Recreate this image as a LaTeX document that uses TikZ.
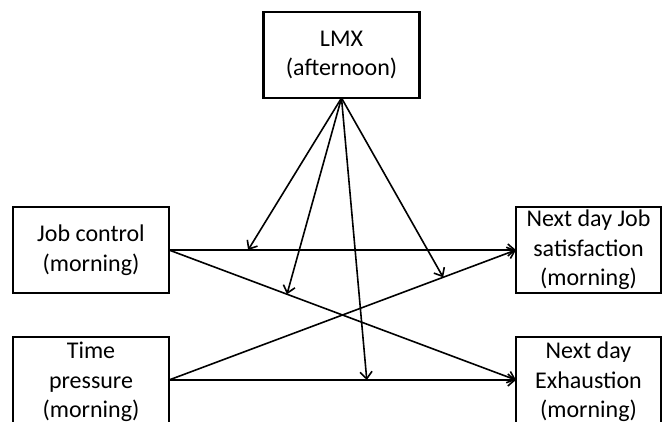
\documentclass[tikz,border=0pt]{standalone}
\usepackage{fontspec}
\setmainfont{Carlito}
\usetikzlibrary{arrows.meta}
\begin{document}
\begin{tikzpicture}[x=1pt,y=-1pt,
  box/.style={draw,line width=2.2pt,minimum height=86pt,inner sep=0pt,outer sep=0pt},
  lbl/.style={align=center,inner sep=0pt,font=\fontsize{24}{29.5}\selectfont},
  ln/.style={line width=1.6pt},
  arr/.style={line width=1.6pt,-{Straight Barb[length=7pt,width=12pt]}}]
\useasboundingbox (0,0) rectangle (662,421);
\node[box,minimum width=156pt] (lmx) at (341.5,55) {};
\node[box,minimum width=156pt] (jc) at (91,250) {};
\node[box,minimum width=156pt] (tp) at (91,380) {};
\node[box,minimum width=145pt] (js) at (588.5,250) {};
\node[box,minimum width=145pt] (ex) at (588.5,380) {};
\node[lbl] (lmxt) at (lmx.center) {LMX\\(afternoon)};
\node[lbl] (jct) at (jc.center) {Job control\\(morning)};
\node[lbl] (tpt) at ([yshift=-2pt]tp.center) {Time\\pressure\\(morning)};
\node[lbl] (jst) at (js.center) {Next day Job\\satisfaction\\(morning)};
\node[lbl] (ext) at ([yshift=-2pt]ex.center) {Next day\\Exhaustion\\(morning)};
\draw[arr] (jc.east) -- coordinate[pos=0.228] (p1) (js.west);
\draw[arr] (jc.east) -- coordinate[pos=0.34] (p2) (ex.west);
\draw[arr] (tp.east) -- coordinate[pos=0.79] (p3) (js.west);
\draw[arr] (tp.east) -- coordinate[pos=0.57] (p4) (ex.west);
\draw[arr] (lmx.south) -- (p1);
\draw[arr] (lmx.south) -- (p2);
\draw[arr] (lmx.south) -- (p3);
\draw[arr] (lmx.south) -- (p4);
\end{tikzpicture}
\end{document}
